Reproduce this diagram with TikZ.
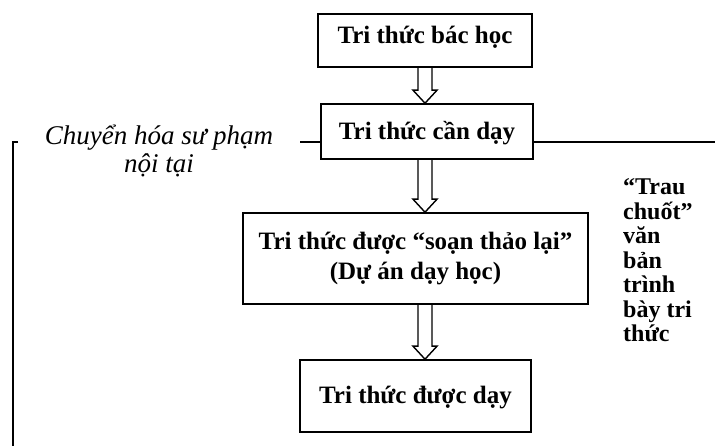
\documentclass[tikz,border=0pt]{standalone}
\usepackage{fontspec}
\setmainfont{Liberation Serif}
\usetikzlibrary{calc}
\newcommand\stackC[2]{\vtop{\lineskiplimit=-100pt\baselineskip=#1\relax\halign{\hfil##\hfil\cr#2\crcr}}}
\newcommand\stackL[2]{\vtop{\lineskiplimit=-100pt\baselineskip=#1\relax\halign{##\hfil\cr#2\crcr}}}
\newcommand\hollowarrow[2]{%
  \draw[hollow] let \p1=(#1.south -| ax), \p2=(#2.north -| ax) in
   (\x1-7pt,\y1) -- (\x1-7pt,\y2+13pt) -- (\x1-12pt,\y2+13pt) -- (\x1,\y2)
   -- (\x1+12pt,\y2+13pt) -- (\x1+7pt,\y2+13pt) -- (\x1+7pt,\y1);}
\begin{document}
\begin{tikzpicture}[x=1pt,y=-1pt,
  box/.style={draw, line width=1.6pt, inner sep=0pt,
    font=\bfseries\fontsize{25}{30}\selectfont},
  hollow/.style={line width=1.4pt, line join=miter},
  rule/.style={line width=1.8pt}]
\fill[white] (0,0) rectangle (715,446);
\useasboundingbox (0,0) rectangle (715,446);
\coordinate (ax) at (425,0);

\node[box, minimum width=214pt, minimum height=53pt, text height=7pt, text depth=0pt]
  (b1) at (425,40.5) {Tri thức bác học};
\node[box, minimum width=212pt, minimum height=55pt, text height=17pt, text depth=0pt]
  (b2) at (427,131.5) {Tri thức cần dạy};
\node[box, minimum width=345pt, minimum height=91pt, text height=0pt, text depth=17pt]
  (b3) at (415.5,258.5) {\stackC{30pt}{Tri thức được “soạn thảo lại”\cr (Dự án dạy học)}};
\node[box, minimum width=231pt, minimum height=72pt, text height=14pt, text depth=0pt]
  (b4) at (415.5,396) {Tri thức được dạy};

\hollowarrow{b1}{b2}
\hollowarrow{b2}{b3}
\hollowarrow{b3}{b4}

\node[inner sep=0pt, anchor=base, font=\itshape\fontsize{27}{28}\selectfont]
  (lefttext) at (159,145) {\stackC{28pt}{Chuyển hóa sư phạm\cr nội tại}};
\node[inner sep=0pt, anchor=base west, font=\bfseries\fontsize{24}{24.5}\selectfont]
  (righttext) at (623,195) {\stackL{24.5pt}{“Trau\cr chuốt”\cr văn\cr bản\cr trình\cr bày tri\cr thức}};

\coordinate (lstart) at (300,142);
\coordinate (rend) at (715,142);
\coordinate (brtick) at (18,142);
\coordinate (brbot) at (13,446);
\draw[rule] (lstart) -- (lstart -| b2.west);
\draw[rule] (b2.east |- rend) -- (rend);
\draw[rule, line width=2.2pt] (brtick) -- (brtick -| brbot) -- (brbot);
\end{tikzpicture}
\end{document}
